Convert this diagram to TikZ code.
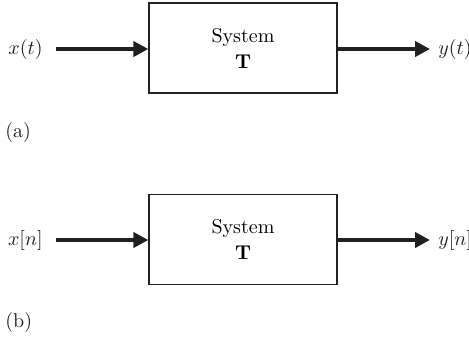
\documentclass[tikz,border=0pt]{standalone}
\usepackage{amsmath}
\usepackage{tikz}
\usetikzlibrary{arrows.meta,positioning}
\definecolor{ink}{HTML}{231F20}

\begin{document}
\begin{tikzpicture}[x=0.5pt,y=-0.5pt,
  sysbox/.style={draw=ink,line width=.6pt,minimum width=94pt,minimum height=45pt,align=center,inner sep=0pt},
  sig/.style={ink,line width=2pt,-{Triangle[length=7.5pt,width=7.5pt]}},
  lbl/.style={ink,inner sep=0pt}]
\useasboundingbox (0,0) rectangle (469,338);
% (a) continuous-time system
\node[sysbox] (sysA) at (243,48) {System\\[1pt]\textbf{T}};
\node[lbl,anchor=east] (xt) at (43,49) {$x(t)$};
\node[lbl,anchor=west] (yt) at (438,49) {$y(t)$};
\draw[sig] ([xshift=6.5pt]xt.east) -- (sysA.west |- xt);
\draw[sig] (sysA.east |- yt) -- ([xshift=-4pt]yt.west);
\node[lbl,anchor=west] (capA) at (5,132) {(a)};
% (b) discrete-time system
\node[sysbox] (sysB) at (243,239.5) {System\\[1pt]\textbf{T}};
\node[lbl,anchor=east] (xn) at (43,240) {$x[n]$};
\node[lbl,anchor=west] (yn) at (438,240) {$y[n]$};
\draw[sig] ([xshift=6.5pt]xn.east) -- (sysB.west |- xn);
\draw[sig] (sysB.east |- yn) -- ([xshift=-4pt]yn.west);
\node[lbl,anchor=west] (capB) at (5,322) {(b)};
\end{tikzpicture}
\end{document}
